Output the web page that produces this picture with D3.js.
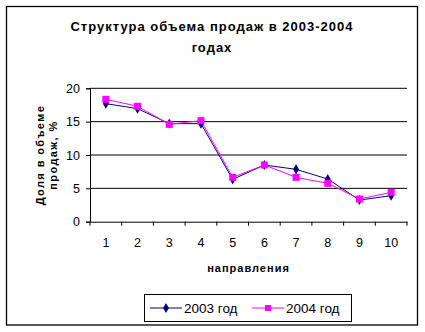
<!DOCTYPE html>
<html>
<head>
<meta charset="utf-8">
<script src="https://cdn.jsdelivr.net/npm/d3@7"></script>
<style>
  body { margin: 0; background: #fff; }
  svg { display: block; font-family: Arial, "Liberation Sans", sans-serif; }
</style>
</head>
<body>
<div id="chart"></div>
<script>
// данные
const categories = [1, 2, 3, 4, 5, 6, 7, 8, 9, 10];
const values2003 = [17.7, 16.95, 14.7, 14.7, 6.35, 8.5, 7.85, 6.4, 3.25, 3.9];
const values2004 = [18.35, 17.3, 14.6, 15.15, 6.65, 8.5, 6.65, 5.75, 3.4, 4.4];
const yTicks = [0, 5, 10, 15, 20];
const seriesNames = ['2003 год', '2004 год'];

const width = 425, height = 332;
const plot = { left: 90, right: 407, top: 88.3, bottom: 221.7 };

const svg = d3.select('#chart').append('svg')
    .attr('width', width)
    .attr('height', height);

// рамка
svg.append('rect')
    .attr('x', 6.5).attr('y', 6.5)
    .attr('width', 411).attr('height', 318.5)
    .attr('fill', 'none')
    .attr('stroke', '#000')
    .attr('stroke-width', 1.3);

// заголовок
svg.append('text')
    .attr('x', 212).attr('y', 31)
    .attr('text-anchor', 'middle')
    .style('font-size', '13px').style('font-weight', 'bold')
    .style('letter-spacing', '1px')
    .text('Структура объема продаж в 2003-2004');
svg.append('text')
    .attr('x', 212).attr('y', 52)
    .attr('text-anchor', 'middle')
    .style('font-size', '13px').style('font-weight', 'bold')
    .style('letter-spacing', '1px')
    .text('годах');

const x = d3.scaleBand()
    .domain(categories)
    .range([plot.left, plot.right]);

const y = d3.scaleLinear()
    .domain([0, 20])
    .range([plot.bottom, plot.top]);

// сетка
svg.append('g')
    .selectAll('line')
    .data(yTicks.filter(d => d > 0))
    .enter()
    .append('line')
    .attr('x1', plot.left).attr('x2', plot.right)
    .attr('y1', d => y(d)).attr('y2', d => y(d))
    .attr('stroke', '#000').attr('stroke-width', 1);

// оси
const yAxis = svg.append('g')
    .attr('transform', `translate(${plot.left},0)`)
    .call(d3.axisLeft(y).tickValues(yTicks).tickSize(4).tickPadding(6));
yAxis.selectAll('text').style('font-size', '12.5px').attr('fill', '#000');
yAxis.selectAll('line, path').attr('stroke', '#000');

const xAxis = svg.append('g')
    .attr('transform', `translate(0,${plot.bottom})`)
    .call(d3.axisBottom(x).tickSize(0).tickPadding(16));
xAxis.select('path').attr('stroke', '#000');
xAxis.selectAll('text').style('font-size', '12.5px').attr('fill', '#000');

// деления между категориями
svg.append('g')
    .selectAll('line')
    .data(categories.concat([null]))
    .enter()
    .append('line')
    .attr('x1', (d, i) => plot.left + i * x.step())
    .attr('x2', (d, i) => plot.left + i * x.step())
    .attr('y1', plot.bottom).attr('y2', plot.bottom + 4)
    .attr('stroke', '#000');

// подписи осей
svg.append('text')
    .attr('x', (plot.left + plot.right) / 2).attr('y', 272)
    .attr('text-anchor', 'middle')
    .style('font-size', '11px').style('font-weight', 'bold')
    .style('letter-spacing', '1px')
    .text('направления');

const yTitle = svg.append('text')
    .attr('transform', 'translate(44,155) rotate(-90)')
    .attr('text-anchor', 'middle')
    .style('font-size', '11px').style('font-weight', 'bold')
    .style('letter-spacing', '1.4px');
yTitle.append('tspan').attr('x', 0).attr('dy', 0).text('Доля в объеме');
yTitle.append('tspan').attr('x', 0).attr('dy', 13).text('продаж, %');

// линии
const cx = d => x(d) + x.bandwidth() / 2;
const line = vals => d3.line()
    .x((d, i) => cx(categories[i]))
    .y(d => y(d))(vals);

svg.append('path')
    .attr('d', line(values2003))
    .attr('fill', 'none').attr('stroke', '#000080').attr('stroke-width', 1);
svg.append('path')
    .attr('d', line(values2004))
    .attr('fill', 'none').attr('stroke', '#ff00ff').attr('stroke-width', 1);

const diamond = d3.symbol().type(d3.symbolDiamond).size(30);

svg.selectAll('.m2003')
    .data(values2003)
    .enter()
    .append('path')
    .attr('class', 'm2003')
    .attr('d', diamond)
    .attr('transform', (d, i) => `translate(${cx(categories[i])},${y(d)})`)
    .attr('fill', '#000080');

svg.selectAll('.m2004')
    .data(values2004)
    .enter()
    .append('rect')
    .attr('class', 'm2004')
    .attr('x', (d, i) => cx(categories[i]) - 3.5)
    .attr('y', d => y(d) - 3.5)
    .attr('width', 7).attr('height', 7)
    .attr('fill', '#ff00ff');

// легенда
const legend = svg.append('g');
legend.append('rect')
    .attr('x', 144.5).attr('y', 294.5)
    .attr('width', 207).attr('height', 27)
    .attr('fill', '#fff').attr('stroke', '#000');

const legendItems = [
    { name: seriesNames[0], color: '#000080', x0: 150, type: 'diamond' },
    { name: seriesNames[1], color: '#ff00ff', x0: 252, type: 'square' }
];
legendItems.forEach(item => {
    const ly = 308;
    legend.append('line')
        .attr('x1', item.x0).attr('x2', item.x0 + 32)
        .attr('y1', ly).attr('y2', ly)
        .attr('stroke', item.color);
    if (item.type === 'diamond') {
        legend.append('path')
            .attr('d', diamond)
            .attr('transform', `translate(${item.x0 + 16},${ly})`)
            .attr('fill', item.color);
    } else {
        legend.append('rect')
            .attr('x', item.x0 + 13).attr('y', ly - 3)
            .attr('width', 6).attr('height', 6)
            .attr('fill', item.color);
    }
    legend.append('text')
        .attr('x', item.x0 + 34).attr('y', ly + 5)
        .style('font-size', '13.5px')
        .text(item.name);
});
</script>
</body>
</html>
